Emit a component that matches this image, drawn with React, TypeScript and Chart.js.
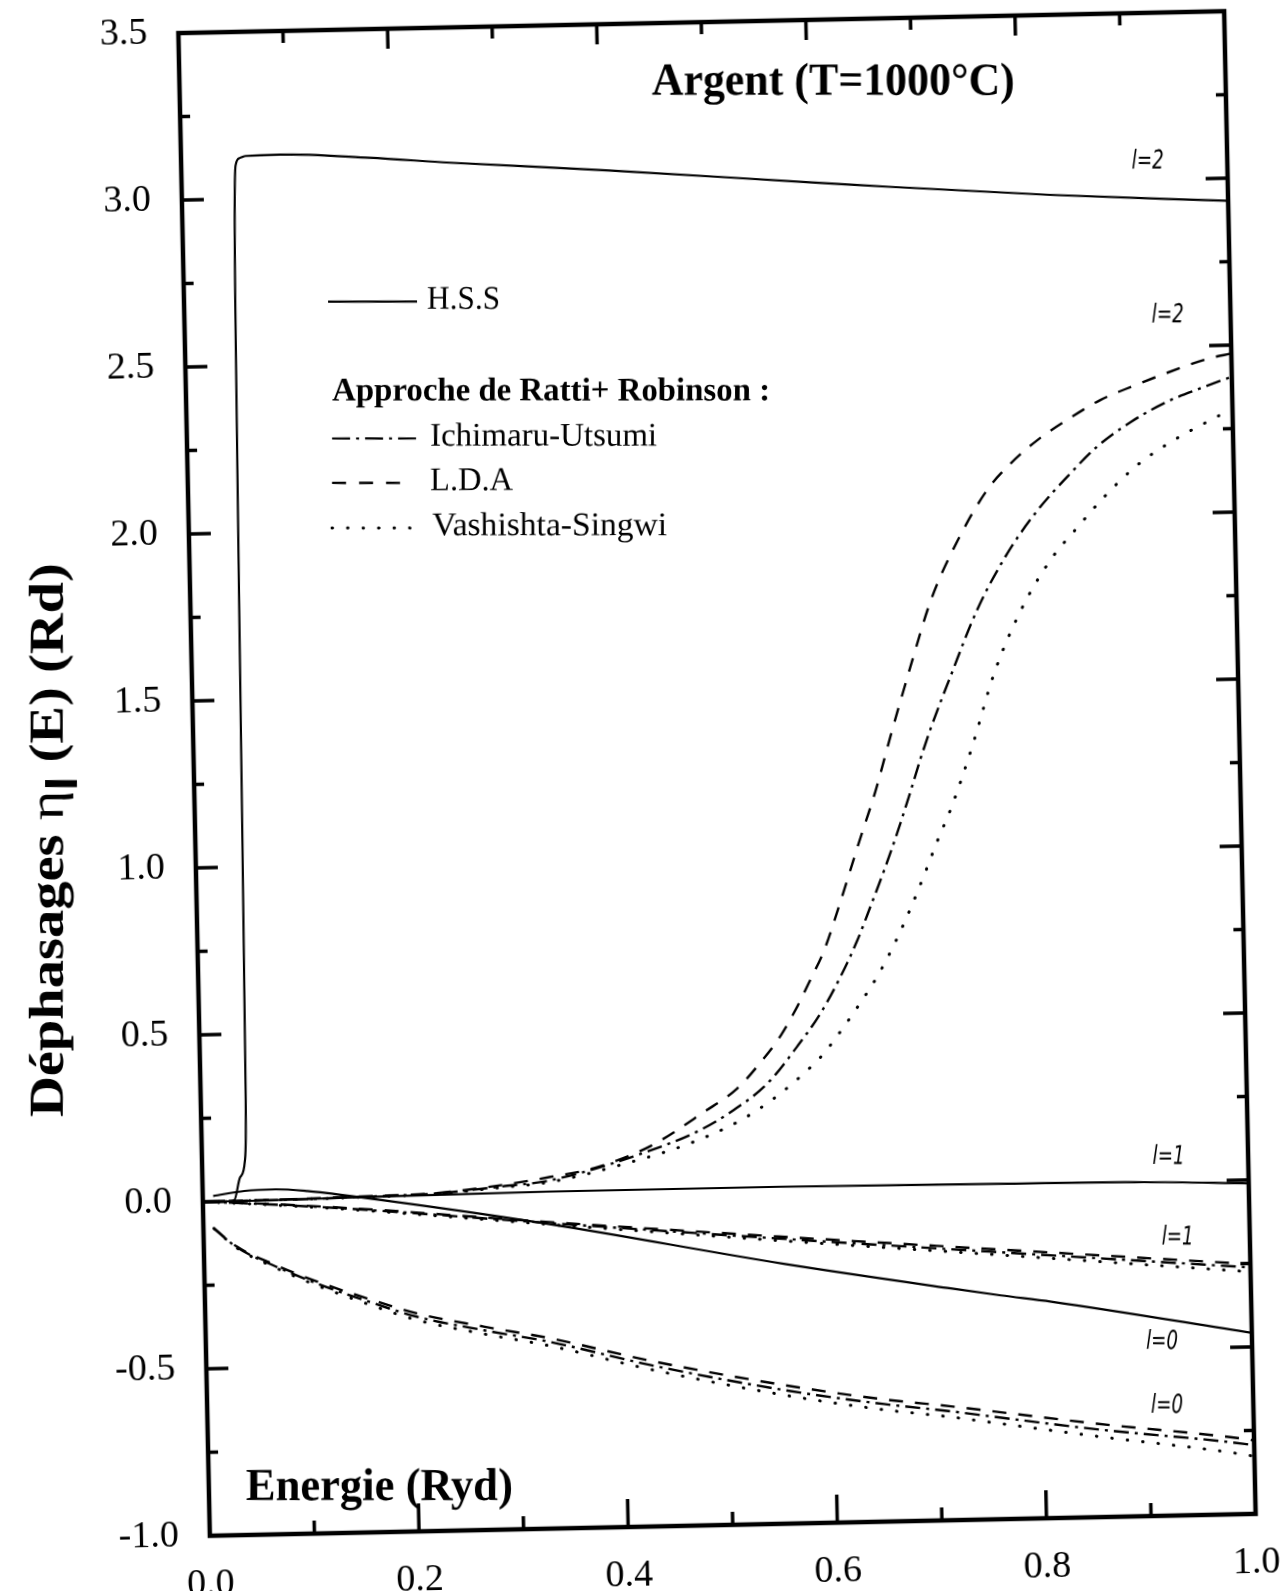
import React, { useEffect, useRef } from 'react';
import { Chart, registerables } from 'chart.js';

Chart.register(...registerables);

// ---------------- data (Energie in Ryd, déphasage in Rd) ----------------
// H.S.S
const HSS_L2_E = [0, 0.02, 0.03, 0.036, 0.041, 0.043, 0.046, 0.049, 0.052, 0.056, 0.062, 0.095, 0.18, 0.257, 0.409, 0.603, 0.64, 0.83, 1.0];
const HSS_L2 = [0, 0.0, 0.003, 0.07, 0.12, 0.3, 1.5, 2.7, 3.1, 3.122, 3.128, 3.13, 3.115, 3.095, 3.062, 3.013, 3.004, 2.961, 2.932];

const HSS_L1_E = [0, 0.03, 0.15, 0.33, 0.55, 0.76, 0.9, 1.0];
const HSS_L1 = [0, 0.0, 0.004, 0.009, 0.009, 0.004, 0.0, -0.01];

const HSS_L0_E = [0.01, 0.04, 0.07, 0.1, 0.15, 0.33, 0.554, 0.713, 0.761, 0.809, 1.0];
const HSS_L0 = [0.017, 0.03, 0.033, 0.026, 0.004, -0.088, -0.222, -0.306, -0.33, -0.352, -0.458];

// Ratti + Robinson, l = 2
const LDA_L2_E = [0, 0.1, 0.15, 0.22, 0.285, 0.333, 0.374, 0.429, 0.481, 0.513, 0.536, 0.556, 0.572, 0.585, 0.599, 0.617, 0.634, 0.651, 0.667, 0.687, 0.708, 0.735, 0.764, 0.787, 0.813, 0.842, 0.874, 0.904, 0.955, 0.979, 1.0];
const LDA_L2 = [0, 0.003, 0.006, 0.011, 0.031, 0.053, 0.076, 0.139, 0.238, 0.306, 0.383, 0.463, 0.547, 0.626, 0.715, 0.873, 1.032, 1.186, 1.355, 1.557, 1.756, 1.934, 2.082, 2.16, 2.228, 2.287, 2.344, 2.382, 2.439, 2.462, 2.475];

const IU_L2_E = [0, 0.1, 0.15, 0.22, 0.285, 0.333, 0.4385, 0.477, 0.509, 0.542, 0.571, 0.594, 0.614, 0.631, 0.644, 0.658, 0.671, 0.683, 0.695, 0.705, 0.725, 0.752, 0.782, 0.812, 0.841, 0.87, 0.903, 0.938, 0.97, 0.991, 1.0];
const IU_L2 = [0, 0.002, 0.005, 0.01, 0.027, 0.043, 0.136, 0.184, 0.241, 0.319, 0.427, 0.525, 0.634, 0.743, 0.842, 0.951, 1.06, 1.169, 1.283, 1.37, 1.525, 1.724, 1.891, 2.019, 2.117, 2.205, 2.277, 2.335, 2.373, 2.396, 2.405];

const VS_L2_E = [0, 0.1, 0.15, 0.22, 0.285, 0.333, 0.406, 0.467, 0.516, 0.548, 0.579, 0.595, 0.608, 0.631, 0.651, 0.668, 0.683, 0.696, 0.709, 0.723, 0.735, 0.746, 0.767, 0.794, 0.823, 0.85, 0.876, 0.908, 0.941, 0.973, 0.989, 1.0];
const VS_L2 = [0, 0.002, 0.004, 0.009, 0.024, 0.038, 0.089, 0.145, 0.211, 0.274, 0.352, 0.4, 0.45, 0.548, 0.642, 0.74, 0.839, 0.933, 1.032, 1.131, 1.23, 1.329, 1.533, 1.721, 1.868, 1.966, 2.055, 2.147, 2.215, 2.268, 2.292, 2.3];

// Ratti + Robinson, l = 1
const RR_L1_E = [0, 0.05, 0.14, 0.33, 0.55, 0.75, 1.0];
const LDA_L1 = [0, -0.008, -0.028, -0.082, -0.14, -0.19, -0.252];
const IU_L1 = [0, -0.009, -0.03, -0.085, -0.146, -0.198, -0.262];
const VS_L1 = [0, -0.01, -0.032, -0.089, -0.152, -0.206, -0.275];

// Ratti + Robinson, l = 0
const RR_L0_E = [0.01, 0.031, 0.069, 0.107, 0.152, 0.202, 0.266, 0.329, 0.425, 0.552, 0.647, 0.711, 0.752, 0.85, 0.991, 1.0];
const LDA_L0 = [-0.08, -0.135, -0.195, -0.245, -0.296, -0.347, -0.391, -0.43, -0.504, -0.585, -0.634, -0.659, -0.677, -0.72, -0.775, -0.78];
const IU_L0 = [-0.08, -0.137, -0.199, -0.251, -0.304, -0.357, -0.402, -0.441, -0.517, -0.6, -0.648, -0.674, -0.693, -0.737, -0.79, -0.795];
const VS_L0 = [-0.08, -0.139, -0.203, -0.257, -0.312, -0.367, -0.413, -0.453, -0.53, -0.615, -0.665, -0.691, -0.711, -0.758, -0.822, -0.828];

// axis ranges / ticks
const X_MIN = 0;
const X_MAX = 1;
const X_LABEL_STEP = 0.2;
const Y_MIN = -1;
const Y_MAX = 3.5;
const Y_LABEL_STEP = 0.5;

// ---------------- styles ----------------
const ANG = (1.2 * Math.PI) / 180;
const SERIF = '"Liberation Serif", "Times New Roman", serif';
const LABEL_FONT = 'italic 26px "DejaVu Sans Condensed", "DejaVu Sans", sans-serif';

const SOLID: number[] = [];
const DASHED = [14, 12];
const DASHDOT = [15, 6, 3, 6];
const DOTTED = [0.5, 15];

type Style = { dash: number[]; width: number; cap: 'butt' | 'round' };
const ST_SOLID: Style = { dash: SOLID, width: 2.2, cap: 'butt' };
const ST_DASH: Style = { dash: DASHED, width: 2.4, cap: 'butt' };
const ST_DASHDOT: Style = { dash: DASHDOT, width: 2.4, cap: 'butt' };
const ST_DOT: Style = { dash: DOTTED, width: 3, cap: 'round' };

function series(label: string, xs: number[], ys: number[], st: Style) {
  return {
    label,
    data: xs.map((x, i) => ({ x, y: ys[i] })),
    borderColor: '#000',
    backgroundColor: '#000',
    borderWidth: st.width,
    borderDash: st.dash,
    borderCapStyle: st.cap,
    pointRadius: 0,
    fill: false,
    cubicInterpolationMode: 'monotone' as const,
  };
}

const CURVE_LABELS = [
  { t: 'l=2', u: 0.924, v: 3.054 },
  { t: 'l=2', u: 0.94, v: 2.592 },
  { t: 'l=1', u: 0.924, v: 0.073 },
  { t: 'l=1', u: 0.931, v: -0.169 },
  { t: 'l=0', u: 0.914, v: -0.48 },
  { t: 'l=0', u: 0.9175, v: -0.672 },
];

function fitText(ctx: CanvasRenderingContext2D, text: string, x: number, y: number, font: string, width: number, align: CanvasTextAlign = 'center') {
  ctx.save();
  ctx.font = font;
  const w = ctx.measureText(text).width || 1;
  ctx.translate(x, y);
  ctx.rotate(ANG);
  ctx.scale(width / w, 1);
  ctx.textAlign = align;
  ctx.textBaseline = 'middle';
  ctx.fillStyle = '#000';
  ctx.fillText(text, 0, 0);
  ctx.restore();
}

function drawYTitle(ctx: CanvasRenderingContext2D, cx: number, cy: number, length: number) {
  const parts = [
    { t: 'Déphasages ', f: `bold 49px ${SERIF}`, dy: 0 },
    { t: 'η', f: `49px ${SERIF}`, dy: 0 },
    { t: 'l', f: 'bold 44px "Liberation Sans", sans-serif', dy: 14 },
    { t: ' (E) (Rd)', f: `bold 49px ${SERIF}`, dy: 0 },
  ];
  let total = 0;
  const ws = parts.map((p) => {
    ctx.font = p.f;
    const w = ctx.measureText(p.t).width;
    total += w;
    return w;
  });
  ctx.save();
  ctx.translate(cx, cy);
  ctx.rotate(ANG - Math.PI / 2);
  ctx.scale(length / total, 1);
  ctx.textAlign = 'left';
  ctx.textBaseline = 'alphabetic';
  ctx.fillStyle = '#000';
  let x = -total / 2;
  parts.forEach((p, i) => {
    ctx.font = p.f;
    ctx.fillText(p.t, x, 16 + p.dy);
    x += ws[i];
  });
  ctx.restore();
}

const decorPlugin = {
  id: 'decor',
  afterDatasetsDraw(chart: any) {
    const { ctx, chartArea: a, scales } = chart;
    const xs = scales.x;
    const ys = scales.y;
    ctx.save();
    ctx.strokeStyle = '#000';
    ctx.setLineDash([]);
    ctx.lineCap = 'butt';
    // frame
    ctx.lineWidth = 4.5;
    ctx.strokeRect(a.left, a.top, a.right - a.left, a.bottom - a.top);
    // inward ticks
    ctx.lineWidth = 3.5;
    for (let i = 1; i < 10; i++) {
      const px = xs.getPixelForValue(i / 10);
      const major = i % 2 === 0;
      ctx.beginPath();
      ctx.moveTo(px, a.bottom);
      ctx.lineTo(px, a.bottom - (major ? 28 : 13));
      ctx.moveTo(px, a.top);
      ctx.lineTo(px, a.top + (major ? 20 : 12));
      ctx.stroke();
    }
    for (let i = 1; i < 18; i++) {
      const py = ys.getPixelForValue(Y_MIN + i * 0.25);
      const len = i % 2 === 0 ? 22 : 10;
      ctx.beginPath();
      ctx.moveTo(a.left, py);
      ctx.lineTo(a.left + len, py);
      ctx.moveTo(a.right, py);
      ctx.lineTo(a.right - len, py);
      ctx.stroke();
    }
    ctx.restore();

    // title and axis titles
    fitText(ctx, 'Argent (T=1000°C)', xs.getPixelForValue(0.625), ys.getPixelForValue(3.31), `bold 46px ${SERIF}`, 363);
    fitText(ctx, 'Energie (Ryd)', xs.getPixelForValue(0.163), ys.getPixelForValue(-0.868), `bold 46px ${SERIF}`, 267);
    drawYTitle(ctx, a.left - 148.4, a.top + 804, 554);

    // curve labels
    CURVE_LABELS.forEach((c) => fitText(ctx, c.t, xs.getPixelForValue(c.u), ys.getPixelForValue(c.v), LABEL_FONT, 32));

    // legend
    const rows = [
      { u: 0.1377, v: 2.687, len: 89, dash: SOLID, cap: 'butt', w: 2.2, text: 'H.S.S', tx: 99, tw: 73, bold: false },
      { u: 0.1397, v: 2.412, len: 0, dash: SOLID, cap: 'butt', w: 0, text: 'Approche de Ratti+ Robinson :', tx: 0, tw: 438, bold: true },
      { u: 0.1388, v: 2.277, len: 85, dash: [18, 6, 3, 6], cap: 'butt', w: 2.2, text: 'Ichimaru-Utsumi', tx: 98, tw: 227, bold: false },
      { u: 0.1379, v: 2.144, len: 68, dash: [14, 13], cap: 'butt', w: 2.4, text: 'L.D.A', tx: 98, tw: 83, bold: false },
      { u: 0.137, v: 2.009, len: 88, dash: [0.5, 15], cap: 'round', w: 3, text: 'Vashishta-Singwi', tx: 100, tw: 235, bold: false },
    ];
    rows.forEach((r) => {
      const x0 = xs.getPixelForValue(r.u);
      const y0 = ys.getPixelForValue(r.v);
      ctx.save();
      ctx.translate(x0, y0);
      ctx.rotate(ANG);
      if (r.len > 0) {
        ctx.strokeStyle = '#000';
        ctx.lineWidth = r.w;
        ctx.lineCap = r.cap as CanvasLineCap;
        ctx.setLineDash(r.dash);
        ctx.beginPath();
        ctx.moveTo(0, 0);
        ctx.lineTo(r.len, 0);
        ctx.stroke();
        ctx.setLineDash([]);
      }
      const font = `${r.bold ? 'bold ' : ''}33px ${SERIF}`;
      ctx.font = font;
      const w = ctx.measureText(r.text).width || 1;
      ctx.translate(r.tx, -1.5);
      ctx.scale(r.tw / w, 1);
      ctx.fillStyle = '#000';
      ctx.textAlign = 'left';
      ctx.textBaseline = 'middle';
      ctx.fillText(r.text, 0, 0);
      ctx.restore();
    });
  },
};

export default function App() {
  const ref = useRef<HTMLCanvasElement>(null);
  useEffect(() => {
    const canvas = ref.current;
    if (!canvas) return;
    Chart.defaults.font.family = SERIF;
    Chart.defaults.color = '#000';
    const chart = new Chart(canvas, {
      type: 'line',
      data: {
        datasets: [
          series('H.S.S l=2', HSS_L2_E, HSS_L2, ST_SOLID),
          series('H.S.S l=1', HSS_L1_E, HSS_L1, ST_SOLID),
          series('H.S.S l=0', HSS_L0_E, HSS_L0, ST_SOLID),
          series('L.D.A l=2', LDA_L2_E, LDA_L2, ST_DASH),
          series('Ichimaru-Utsumi l=2', IU_L2_E, IU_L2, ST_DASHDOT),
          series('Vashishta-Singwi l=2', VS_L2_E, VS_L2, ST_DOT),
          series('L.D.A l=1', RR_L1_E, LDA_L1, ST_DASH),
          series('Ichimaru-Utsumi l=1', RR_L1_E, IU_L1, ST_DASHDOT),
          series('Vashishta-Singwi l=1', RR_L1_E, VS_L1, ST_DOT),
          series('L.D.A l=0', RR_L0_E, LDA_L0, ST_DASH),
          series('Ichimaru-Utsumi l=0', RR_L0_E, IU_L0, ST_DASHDOT),
          series('Vashishta-Singwi l=0', RR_L0_E, VS_L0, ST_DOT),
        ],
      },
      options: {
        responsive: false,
        devicePixelRatio: 1,
        animation: false,
        events: [],
        layout: { padding: { left: 0, top: 22, right: 47, bottom: 0 } },
        plugins: { legend: { display: false }, tooltip: { enabled: false }, title: { display: false } },
        scales: {
          x: {
            type: 'linear',
            position: 'bottom',
            min: X_MIN,
            max: X_MAX,
            grid: { display: false },
            border: { display: false },
            ticks: {
              stepSize: X_LABEL_STEP,
              autoSkip: false,
              maxRotation: 0,
              padding: 18,
              color: '#000',
              font: { family: SERIF, size: 38 },
              callback: (v: any) => Number(v).toFixed(1),
            },
            afterFit: (s: any) => {
              s.height = 66;
              s.paddingLeft = 0;
              s.paddingRight = 0;
            },
          },
          y: {
            type: 'linear',
            position: 'left',
            min: Y_MIN,
            max: Y_MAX,
            grid: { display: false },
            border: { display: false },
            ticks: {
              stepSize: Y_LABEL_STEP,
              padding: 23,
              color: '#000',
              font: { family: SERIF, size: 38 },
              callback: (v: any) => Number(v).toFixed(1),
            },
            afterFit: (s: any) => {
              s.width = 194;
              s.paddingTop = 0;
              s.paddingBottom = 0;
            },
          },
        },
      } as any,
      plugins: [decorPlugin],
    });
    return () => chart.destroy();
  }, []);
  return (
    <div style={{ position: 'fixed', left: 0, top: 0, width: 1287, height: 1591, overflow: 'hidden', background: '#fff' }}>
      <canvas
        ref={ref}
        width={1287}
        height={1591}
        style={{ display: 'block', width: 1287, height: 1591, transform: 'rotate(-1.2deg)', transformOrigin: '716.5px 773.5px' }}
      />
    </div>
  );
}
